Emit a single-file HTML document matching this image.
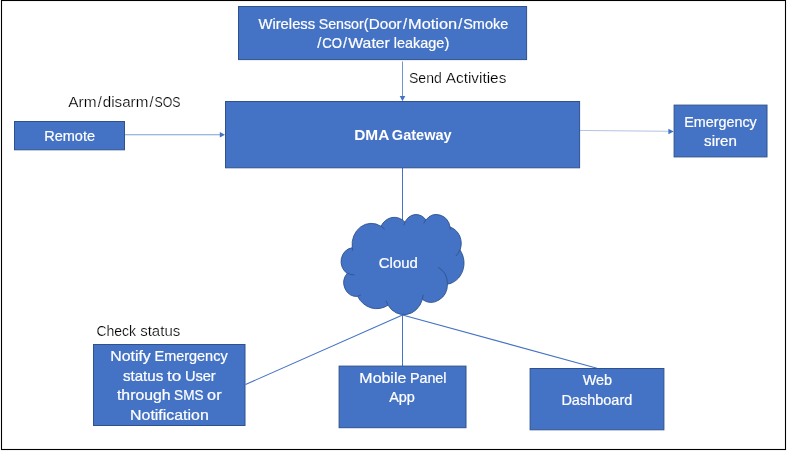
<!DOCTYPE html>
<html lang="en">
<head>
<meta charset="utf-8">
<title>DMA Gateway architecture</title>
<style>
html,body{margin:0;padding:0;background:#fff;}
body{width:788px;height:452px;overflow:hidden;}
svg{display:block;will-change:transform;}
text{font-family:"Liberation Sans",sans-serif;}
</style>
</head>
<body>
<svg width="788" height="452" viewBox="0 0 788 452">
<rect x="0" y="0" width="788" height="452" fill="#ffffff"/>
<!-- outer frame -->
<rect x="1.5" y="0.5" width="784" height="449" fill="none" stroke="#000000" stroke-width="1.1"/>
<!-- connectors -->
<g stroke="#4472C4" fill="none">
<line x1="402.5" y1="61.5" x2="402.5" y2="97" stroke-width="0.75"/>
<line x1="125" y1="134.75" x2="221" y2="134.75" stroke-width="0.7"/>
<line x1="580" y1="130.45" x2="669.5" y2="131.3" stroke-width="0.42"/>
<line x1="402.5" y1="168" x2="402.5" y2="220.5" stroke-width="1"/>
<line x1="402.5" y1="315" x2="245.5" y2="384.5" stroke-width="1.05"/>
<line x1="402.5" y1="315" x2="402.5" y2="366" stroke-width="1"/>
<line x1="402.5" y1="315" x2="597" y2="368.2" stroke-width="1.05"/>
</g>
<g fill="#4472C4">
<polygon points="399.7,96 405.3,96 402.5,101.2"/>
<polygon points="219.8,132 219.8,137.5 225,134.75"/>
<polygon points="668.4,128.8 668.4,134.3 673.7,131.55"/>
</g>
<!-- shapes -->
<g fill="#4472C4" stroke="#2F528F" stroke-width="1">
<rect x="238.50" y="6.50" width="288.10" height="53.10"/>
<rect x="14.50" y="121.50" width="110.00" height="28.30"/>
<rect x="225.50" y="101.50" width="354.10" height="66.30"/>
<rect x="674.10" y="105.10" width="92.90" height="51.80"/>
<rect x="93.50" y="344.50" width="151.50" height="81.00"/>
<rect x="339.10" y="366.10" width="126.90" height="61.60"/>
<rect x="530.10" y="368.50" width="133.80" height="61.30"/>
<path d="M352.24 247.50 A19.20 21.29 0 0 1 380.96 226.25 A15.16 16.84 0 0 1 404.98 222.15 A12.41 13.78 0 0 1 425.95 219.95 A13.81 15.28 0 0 1 450.07 227.12 A15.16 16.85 0 0 1 460.02 250.02 A19.26 21.36 0 0 1 447.48 284.18 A16.44 18.23 0 0 1 422.32 299.50 A19.19 21.35 0 0 1 388.00 305.18 A21.94 24.43 0 0 1 357.65 296.39 A12.39 13.71 0 0 1 347.16 273.40 A12.35 13.78 0 0 1 352.13 247.81Z" stroke-width="0.9"/>
<path d="M354.49 274.86 A12.35 13.78 0 0 1 347.29 273.01 M360.84 295.07 A12.39 13.71 0 0 1 357.69 295.95 M387.99 304.78 A19.19 21.35 0 0 1 386.09 300.74 M423.09 294.72 A19.19 21.35 0 0 1 422.34 299.15 M438.16 267.39 A16.44 18.23 0 0 1 447.41 283.92 M459.96 249.78 A15.16 16.85 0 0 1 455.85 255.98 M450.09 226.77 A13.81 15.28 0 0 1 450.31 229.70 M423.81 223.36 A13.81 15.28 0 0 1 425.92 219.62 M404.09 225.14 A12.41 13.78 0 0 1 405.11 221.92 M380.95 226.23 A19.20 21.29 0 0 1 384.64 229.35 M352.88 250.79 A19.20 21.29 0 0 1 352.24 247.50" fill="none" stroke-width="0.9"/>
</g>
<!-- labels -->
<text y="29" font-size="14.6" font-weight="400" fill="#ffffff" stroke="#ffffff" stroke-width="0.22"><tspan x="258.43" textLength="56.75" lengthAdjust="spacingAndGlyphs">Wireless</tspan> <tspan x="318.69" textLength="45.07" lengthAdjust="spacingAndGlyphs">Sensor</tspan><tspan x="363.66">(</tspan><tspan x="368.65" textLength="33.07" lengthAdjust="spacingAndGlyphs">Door</tspan><tspan x="402.90">/</tspan><tspan x="408.09" textLength="49.10" lengthAdjust="spacingAndGlyphs">Motion</tspan><tspan x="458.24">/</tspan><tspan x="463.22" textLength="45.02" lengthAdjust="spacingAndGlyphs">Smoke</tspan></text>
<text y="48" font-size="14.6" font-weight="400" fill="#ffffff" stroke="#ffffff" stroke-width="0.22"><tspan x="317.31">/</tspan><tspan x="322.36" textLength="19.68" lengthAdjust="spacingAndGlyphs">CO</tspan><tspan x="343.10">/</tspan><tspan x="348.32" textLength="41.50" lengthAdjust="spacingAndGlyphs">Water</tspan> <tspan x="393.76" textLength="50.54" lengthAdjust="spacingAndGlyphs">leakage</tspan><tspan x="444.51">)</tspan></text>
<text y="83" font-size="14.6" font-weight="400" fill="#000000" stroke="#ffffff" stroke-width="0.2"><tspan x="408.96" textLength="32.84" lengthAdjust="spacingAndGlyphs">Send</tspan> <tspan x="445.78" textLength="60.57" lengthAdjust="spacingAndGlyphs">Activities</tspan></text>
<text y="107" font-size="14.6" font-weight="400" fill="#000000" stroke="#ffffff" stroke-width="0.2"><tspan x="68.27" textLength="28.23" lengthAdjust="spacingAndGlyphs">Arm</tspan><tspan x="97.66">/</tspan><tspan x="102.82" textLength="45.45" lengthAdjust="spacingAndGlyphs">disarm</tspan><tspan x="149.45">/</tspan><tspan x="154.54" textLength="26.03" lengthAdjust="spacingAndGlyphs">SOS</tspan></text>
<text y="141" font-size="14.6" font-weight="400" fill="#ffffff" stroke="#ffffff" stroke-width="0.22"><tspan x="44.21" textLength="50.84" lengthAdjust="spacingAndGlyphs">Remote</tspan></text>
<text y="140" font-size="14.6" font-weight="700" fill="#ffffff"><tspan x="354.18" textLength="34.58" lengthAdjust="spacingAndGlyphs">DMA</tspan> <tspan x="391.85" textLength="59.83" lengthAdjust="spacingAndGlyphs">Gateway</tspan></text>
<text y="127" font-size="14.6" font-weight="400" fill="#ffffff" stroke="#ffffff" stroke-width="0.22"><tspan x="684.22" textLength="72.50" lengthAdjust="spacingAndGlyphs">Emergency</tspan></text>
<text y="146" font-size="14.6" font-weight="400" fill="#ffffff" stroke="#ffffff" stroke-width="0.22"><tspan x="704.08" textLength="32.80" lengthAdjust="spacingAndGlyphs">siren</tspan></text>
<text y="268" font-size="14.6" font-weight="400" fill="#ffffff" stroke="#ffffff" stroke-width="0.22"><tspan x="378.84" textLength="39.02" lengthAdjust="spacingAndGlyphs">Cloud</tspan></text>
<text y="336" font-size="14.6" font-weight="400" fill="#000000" stroke="#ffffff" stroke-width="0.2"><tspan x="96.39" textLength="39.76" lengthAdjust="spacingAndGlyphs">Check</tspan> <tspan x="140.21" textLength="40.03" lengthAdjust="spacingAndGlyphs">status</tspan></text>
<text y="361" font-size="14.6" font-weight="400" fill="#ffffff" stroke="#ffffff" stroke-width="0.22"><tspan x="110.20" textLength="40.59" lengthAdjust="spacingAndGlyphs">Notify</tspan> <tspan x="154.51" textLength="73.12" lengthAdjust="spacingAndGlyphs">Emergency</tspan></text>
<text y="381" font-size="14.6" font-weight="400" fill="#ffffff" stroke="#ffffff" stroke-width="0.22"><tspan x="122.98" textLength="40.28" lengthAdjust="spacingAndGlyphs">status</tspan> <tspan x="167.00" textLength="14.29" lengthAdjust="spacingAndGlyphs">to</tspan> <tspan x="184.90" textLength="30.85" lengthAdjust="spacingAndGlyphs">User</tspan></text>
<text y="400" font-size="14.6" font-weight="400" fill="#ffffff" stroke="#ffffff" stroke-width="0.22"><tspan x="116.96" textLength="53.62" lengthAdjust="spacingAndGlyphs">through</tspan> <tspan x="174.10" textLength="29.42" lengthAdjust="spacingAndGlyphs">SMS</tspan> <tspan x="207.12" textLength="14.45" lengthAdjust="spacingAndGlyphs">or</tspan></text>
<text y="420" font-size="14.6" font-weight="400" fill="#ffffff" stroke="#ffffff" stroke-width="0.22"><tspan x="130.10" textLength="78.64" lengthAdjust="spacingAndGlyphs">Notification</tspan></text>
<text y="383" font-size="14.6" font-weight="400" fill="#ffffff" stroke="#ffffff" stroke-width="0.22"><tspan x="359.39" textLength="46.93" lengthAdjust="spacingAndGlyphs">Mobile</tspan> <tspan x="409.91" textLength="36.55" lengthAdjust="spacingAndGlyphs">Panel</tspan></text>
<text y="402" font-size="14.6" font-weight="400" fill="#ffffff" stroke="#ffffff" stroke-width="0.22"><tspan x="389.17" textLength="25.74" lengthAdjust="spacingAndGlyphs">App</tspan></text>
<text y="385" font-size="14.6" font-weight="400" fill="#ffffff" stroke="#ffffff" stroke-width="0.22"><tspan x="582.64" textLength="29.46" lengthAdjust="spacingAndGlyphs">Web</tspan></text>
<text y="405" font-size="14.6" font-weight="400" fill="#ffffff" stroke="#ffffff" stroke-width="0.22"><tspan x="561.41" textLength="70.92" lengthAdjust="spacingAndGlyphs">Dashboard</tspan></text>
</svg>
</body>
</html>
